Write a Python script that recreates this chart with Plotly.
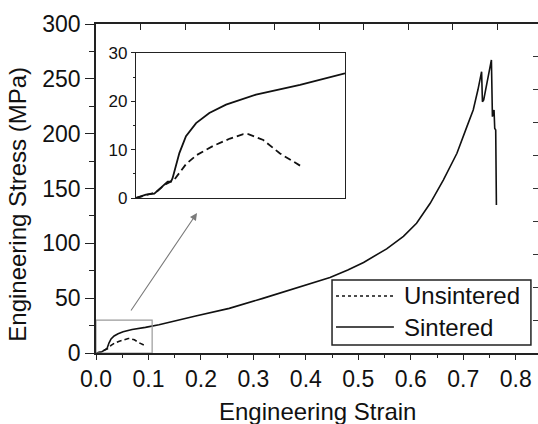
import plotly.graph_objects as go

# ---- data ----
SERIES = ["Unsintered", "Sintered"]

sint_strain = [0, 0.0057, 0.0105, 0.0153, 0.0182, 0.0201, 0.021, 0.0249, 0.0287, 0.0345,
               0.0421, 0.0517, 0.0689, 0.0942, 0.12, 0.19, 0.254, 0.318, 0.381, 0.419,
               0.446, 0.48, 0.51, 0.554, 0.586, 0.611, 0.637, 0.662, 0.688, 0.707,
               0.719, 0.728, 0.735, 0.7366, 0.739, 0.7537, 0.7556, 0.7587, 0.76,
               0.7619, 0.7632]
sint_stress = [0, 0.7, 0.9, 2.4, 3.4, 3.4, 4.1, 9.3, 12.8, 15.5,
               17.6, 19.3, 21.4, 23.4, 25.8, 33.7, 40.7, 49.8, 59.0, 64.3,
               68.8, 75.6, 82.6, 95.0, 106.3, 118.3, 136.5, 157.7, 182.1, 206.4,
               221.6, 240.0, 256.5, 229.1, 230.7, 267.2, 215.5, 221.6, 204.9,
               203.3, 134.9]

unsint_strain = [0, 0.0061, 0.0115, 0.0167, 0.022, 0.0287, 0.0349, 0.0444,
                 0.054, 0.0616, 0.0645, 0.0731, 0.0827, 0.0942]
unsint_stress = [0, 0.7, 1.2, 2.8, 3.8, 7.0, 8.9, 10.8,
                 12.3, 13.2, 13.2, 12.0, 9.2, 6.7]

main_xticks = [0.0, 0.1, 0.2, 0.3, 0.4, 0.5, 0.6, 0.7, 0.8]
main_xlabels = ["0.0", "0.1", "0.2", "0.3", "0.4", "0.5", "0.6", "0.7", "0.8"]
main_yticks = [0, 50, 100, 150, 200, 250, 300]
inset_yticks = [0, 10, 20, 30]

FONT = "Liberation Sans, Arial, sans-serif"
INK = "#111111"

fig = go.Figure()

# main plot
fig.add_trace(go.Scatter(x=unsint_strain, y=unsint_stress, mode="lines", name=SERIES[0],
                         line=dict(color=INK, width=1.6, dash="5px,3px"), showlegend=False))
fig.add_trace(go.Scatter(x=sint_strain, y=sint_stress, mode="lines", name=SERIES[1],
                         line=dict(color=INK, width=1.6), showlegend=False))
# inset
fig.add_trace(go.Scatter(x=unsint_strain, y=unsint_stress, mode="lines", name=SERIES[0],
                         xaxis="x3", yaxis="y3",
                         line=dict(color=INK, width=1.8, dash="7px,4px"), showlegend=False))
fig.add_trace(go.Scatter(x=sint_strain, y=sint_stress, mode="lines", name=SERIES[1],
                         xaxis="x3", yaxis="y3",
                         line=dict(color=INK, width=1.8), showlegend=False))
# placeholder so top/right decorative axes are drawn
fig.add_trace(go.Scatter(x=[], y=[], xaxis="x2", yaxis="y2", showlegend=False, hoverinfo="skip"))

frame = dict(color="#222222", width=1.6)

fig.update_layout(
    width=538, height=424,
    margin=dict(l=96, r=0, t=24, b=71),
    paper_bgcolor="white", plot_bgcolor="white",
    font=dict(family=FONT, color=INK, size=23),
    xaxis=dict(range=[0, 0.8425], tickvals=main_xticks, ticktext=main_xlabels,
               ticks="outside", ticklen=5, tickwidth=1.4, tickcolor="#222",
               minor=dict(dtick=0.05, ticks="outside", ticklen=3, tickcolor="#222"),
               showline=True, linecolor=frame["color"], linewidth=frame["width"],
               showgrid=False, zeroline=False, tickfont=dict(size=23)),
    yaxis=dict(range=[0, 300], tickvals=main_yticks,
               ticks="outside", ticklen=9, tickwidth=1.4, tickcolor="#222",
               minor=dict(dtick=25, ticks="outside", ticklen=5, tickcolor="#222"),
               showline=True, linecolor=frame["color"], linewidth=frame["width"],
               showgrid=False, zeroline=False, tickfont=dict(size=23)),
    xaxis2=dict(overlaying="x", side="top", anchor="y2", range=[0, 9.91], dtick=1,
                ticks="inside", ticklen=6, tickcolor="#222", showticklabels=False,
                showline=True, linecolor=frame["color"], linewidth=frame["width"],
                showgrid=False, zeroline=False),
    yaxis2=dict(overlaying="y", side="right", anchor="x2", range=[0, 10], dtick=1,
                ticks="inside", ticklen=5, tickcolor="#333", showticklabels=False,
                showline=False, showgrid=False, zeroline=False),
    xaxis3=dict(domain=[0.0905, 0.5633], anchor="y3", range=[0, 0.12],
                showticklabels=False, ticks="", showline=True, mirror=True,
                linecolor=frame["color"], linewidth=1.4, showgrid=False, zeroline=False),
    yaxis3=dict(domain=[0.4711, 0.9119], anchor="x3", range=[0, 30], tickvals=inset_yticks,
                ticks="outside", ticklen=4, tickcolor="#222",
                minor=dict(dtick=5, ticks="outside", ticklen=2, tickcolor="#222"),
                showline=True, mirror=True, linecolor=frame["color"], linewidth=1.4,
                showgrid=False, zeroline=False, tickfont=dict(size=17)),
    showlegend=False,
)

# zoom rectangle in main plot
fig.add_shape(type="rect", xref="x", yref="y", x0=0, x1=0.107, y0=0, y1=30,
              line=dict(color="#9a9a9a", width=1.2))
# arrow from rectangle to inset
fig.add_annotation(xref="x", yref="y", axref="x", ayref="y",
                   x=0.1925, y=127.7, ax=0.0648, ay=37.4, text="",
                   showarrow=True, arrowhead=2, arrowsize=1.3, arrowwidth=1.1,
                   arrowcolor="#7a7a7a", standoff=0)

# axis titles
fig.add_annotation(xref="paper", yref="paper", x=0.5, y=-0.178, yanchor="middle",
                   text="Engineering Strain", showarrow=False, font=dict(size=24))
fig.add_annotation(xref="paper", yref="paper", x=-0.177, y=0.453, xanchor="center",
                   yanchor="middle", textangle=-90,
                   text="Engineering Stress (MPa)", showarrow=False, font=dict(size=24))

# manual legend (box, line samples, labels)
fig.add_shape(type="rect", xref="paper", yref="paper", x0=0.534, x1=0.984, y0=0.0243, y1=0.2219,
              line=dict(color="#222", width=1.5), fillcolor="white", layer="above")
leg_y = [0.1733, 0.079]
leg_dash = ["3px,3px", "solid"]
for name, yy, dsh in zip(SERIES, leg_y, leg_dash):
    fig.add_shape(type="line", xref="paper", yref="paper", x0=0.543, x1=0.674, y0=yy, y1=yy,
                  line=dict(color=INK, width=1.4, dash=dsh), layer="above")
    fig.add_annotation(xref="paper", yref="paper", x=0.692, y=yy, xanchor="left",
                       yanchor="middle", text=name, showarrow=False, font=dict(size=24))

fig.write_html("out.html", config={"displayModeBar": False},
               post_script="document.body.style.margin='0';")
